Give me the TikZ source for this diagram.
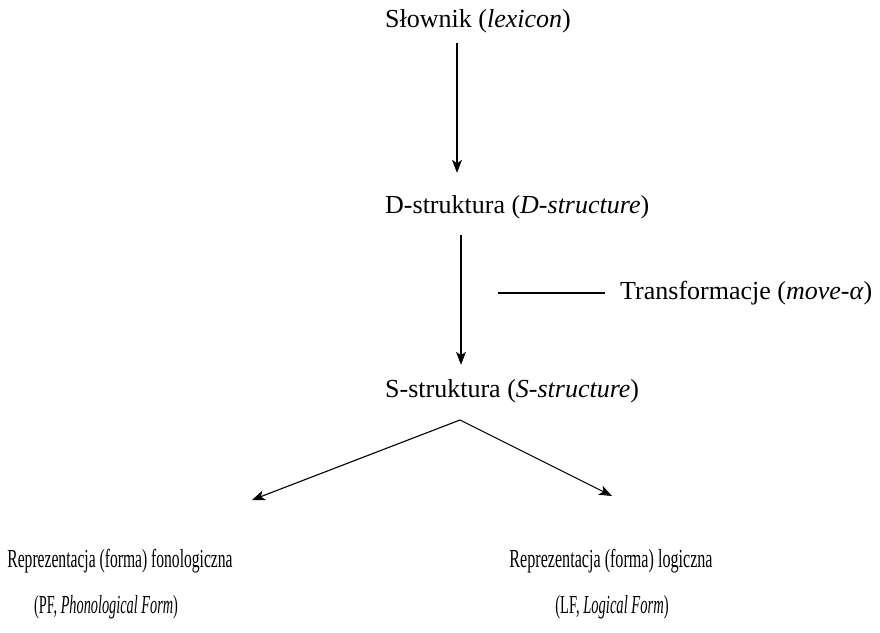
\documentclass[tikz,border=0pt]{standalone}
\usepackage{fontspec}
\setmainfont{Liberation Serif}
\usepackage{graphicx}
\usetikzlibrary{arrows.meta,calc}
\begin{document}
\begin{tikzpicture}[x=1pt,y=-1pt,
  lbl/.style={inner sep=0pt, text height=18pt, text depth=6pt, font=\fontsize{26}{31}\selectfont},
  arr/.style={line width=1.1pt, -{Stealth[length=13pt,width=10pt,inset=3.5pt]}},
  ln/.style={line width=1.1pt}]
\useasboundingbox[fill=white] (0,0) rectangle (880,632);
\node[lbl, anchor=base west] (lex) at (385,27) {Słownik (\textit{lexicon})};
\node[lbl, anchor=base west] (ds) at (385,213) {D-struktura (\textit{D-structure})};
\node[lbl, anchor=base west] (ss) at (385,397) {S-struktura (\textit{S-structure})};
\node[lbl, anchor=base west] (tr) at (620,299) {Transformacje (\textit{move-α})};
\node[lbl, anchor=base] (pf1) at (120,567) {\scalebox{0.6}[1]{Reprezentacja (forma) fonologiczna}};
\node[lbl, anchor=base] (pf2) at (106,613) {\scalebox{0.55}[1]{(PF, \textit{Phonological Form})}};
\node[lbl, anchor=base] (lf1) at (611,567) {\scalebox{0.62}[1]{Reprezentacja (forma) logiczna}};
\node[lbl, anchor=base] (lf2) at (612,613) {\scalebox{0.56}[1]{(LF, \textit{Logical Form})}};
\coordinate (a1) at (457,0);
\coordinate (a2) at (461,0);
\coordinate (apex) at (460,420);
\coordinate (tipL) at (252,500);
\coordinate (tipR) at (612,496);
\draw[arr] ($(lex.south -| a1)+(0,10)$) -- ($(ds.north -| a1)+(0,-22)$);
\draw[arr] ($(ds.south -| a2)+(0,16)$) -- ($(ss.north -| a2)+(0,-14)$);
\draw[ln] ($(tr.west)+(-122,0)$) -- ($(tr.west)+(-15,0)$);
\draw[arr] (apex) -- (tipL);
\draw[arr] (apex) -- (tipR);
\end{tikzpicture}
\end{document}
